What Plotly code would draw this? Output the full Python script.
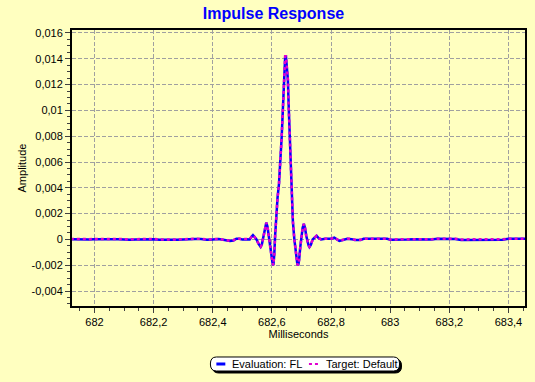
import plotly.graph_objects as go

# ---- data (milliseconds / amplitude) ----
time_ms = [
    681.92, 681.94, 681.96, 681.98, 682.00, 682.02, 682.04, 682.06, 682.08, 682.10,
    682.12, 682.14, 682.16, 682.18, 682.20, 682.22, 682.24, 682.26, 682.28, 682.30,
    682.32, 682.34, 682.36, 682.38, 682.40, 682.42, 682.44, 682.458, 682.47, 682.48,
    682.49, 682.50, 682.515, 682.525, 682.531, 682.536, 682.541, 682.548, 682.555, 682.562,
    682.566, 682.570, 682.575, 682.581, 682.585, 682.589, 682.592, 682.597, 682.602, 682.605,
    682.608, 682.611, 682.615, 682.619, 682.624, 682.629, 682.633, 682.637, 682.640, 682.644,
    682.645, 682.6475, 682.650, 682.654, 682.657, 682.660, 682.665, 682.671, 682.676, 682.681,
    682.686, 682.689, 682.692, 682.696, 682.699, 682.704, 682.708, 682.712, 682.716, 682.719,
    682.724, 682.727, 682.732, 682.738, 682.745, 682.751, 682.758, 682.766, 682.78, 682.80,
    682.811, 682.82, 682.828, 682.84, 682.855, 682.87, 682.88, 682.90, 682.91, 682.93,
    682.95, 682.97, 682.99, 683.00, 683.02, 683.04, 683.06, 683.08, 683.10, 683.12,
    683.14, 683.16, 683.18, 683.20, 683.22, 683.24, 683.26, 683.28, 683.30, 683.32,
    683.34, 683.36, 683.38, 683.40, 683.42, 683.44, 683.46,
]

evaluation_fl = [
    0.00002, 0.0, 0.00003, 0.0, 0.00002, 0.00003, 0.00001, 0.00003, 0.00002, 0.0,
    -0.00003, 0.0, 0.00002, 0.00004, 0.00002, -0.00002, 0.0, -0.00003, -0.00002, 0.0,
    0.00005, 0.00004, 0.00003, -0.00002, 0.0, 0.00003, -0.00005, -0.00013, -0.00008, 0.00005,
    0.00005, 0.0, 0.00002, 0.0, 0.0002, 0.00033, 0.0002, 0.0, -0.00035, -0.00058,
    -0.0004, 0.0, 0.0007, 0.0013, 0.001, 0.0003, -0.0001, -0.001, -0.0018, -0.002,
    -0.0012, 0.0003, 0.002, 0.0032, 0.0043, 0.0061, 0.0079, 0.01, 0.012, 0.014,
    0.0142, 0.0142, 0.0136, 0.0124, 0.0102, 0.008, 0.0045, 0.0014, 0.0, -0.001,
    -0.0019, -0.002, -0.0016, -0.0006, 0.0, 0.0009, 0.0012, 0.0009, 0.0003, -0.0001,
    -0.00045, -0.00058, -0.0004, 0.0, 0.0002, 0.00028, 0.0001, 0.0, 0.00005, 0.00005,
    0.00013, 0.0, -0.00012, -0.00005, 0.00005, 0.00002, -0.00005, -0.00005, 0.00005, 0.00005,
    0.00005, 0.00005, 0.00005, -0.00002, -0.00003, -0.00003, 0.0, 0.00002, 0.0, -0.00002,
    0.0, 0.00005, 0.00005, 0.00005, 0.00004, -0.00005, -0.00005, -0.00005, -0.00005, -0.00005,
    -0.00005, -0.00005, -0.00003, 0.00005, 0.00005, 0.00005, 0.00005,
]

target_default = [
    0.00004, 0.00002, 0.00004, 0.00002, 0.00003, 0.00004, 0.00003, 0.00004, 0.00003, 0.00002,
    0.0, 0.00002, 0.00003, 0.00005, 0.00003, 0.0, 0.00002, 0.0, 0.0, 0.00002,
    0.00006, 0.00005, 0.00004, 0.0, 0.00002, 0.00004, -0.00003, -0.00011, -0.00006, 0.00006,
    0.00006, 0.00002, 0.00003, 0.00002, 0.0002, 0.00032, 0.0002, 0.0, -0.00034, -0.00056,
    -0.0004, 0.0, 0.0007, 0.0013, 0.001, 0.0003, -0.0001, -0.001, -0.0018, -0.002,
    -0.0012, 0.0003, 0.002, 0.0032, 0.0043, 0.0061, 0.0079, 0.01, 0.012, 0.014,
    0.0142, 0.0142, 0.0136, 0.0124, 0.0102, 0.008, 0.0045, 0.0014, 0.0, -0.001,
    -0.0019, -0.002, -0.0016, -0.0006, 0.0, 0.0009, 0.0012, 0.0009, 0.0003, -0.0001,
    -0.00045, -0.00056, -0.0004, 0.0, 0.0002, 0.00028, 0.0001, 0.00002, 0.00006, 0.00006,
    0.00014, 0.00002, -0.0001, -0.00003, 0.00006, 0.00004, -0.00002, -0.00002, 0.00006, 0.00006,
    0.00006, 0.00006, 0.00006, 0.0, 0.0, 0.0, 0.00002, 0.00004, 0.00002, 0.0,
    0.00002, 0.00006, 0.00006, 0.00006, 0.00005, 0.0, 0.0, 0.0, 0.0, 0.0,
    0.0, 0.0, 0.00002, 0.00006, 0.00006, 0.00006, 0.00006,
]

x_tick_vals = [682.0, 682.2, 682.4, 682.6, 682.8, 683.0, 683.2, 683.4]
x_tick_text = ["682", "682,2", "682,4", "682,6", "682,8", "683", "683,2", "683,4"]
y_tick_vals = [0.016, 0.014, 0.012, 0.01, 0.008, 0.006, 0.004, 0.002, 0.0, -0.002, -0.004]
y_tick_text = ["0,016", "0,014", "0,012", "0,01", "0,008", "0,006", "0,004", "0,002", "0",
               "-0,002", "-0,004"]

series_names = ["Evaluation: FL", "Target: Default"]

# ---- styling ----
BG = "#FFFFC0"
FONT = "Liberation Sans, Arial, sans-serif"
BLUE = "#0000FF"
MAGENTA = "#E000D0"

W, H = 535, 382
ML, MR, MT, MB = 72, 8, 30, 76
PW, PH = W - ML - MR, H - MT - MB


def px2paper(px, py):
    return (px - ML) / PW, (H - MB - py) / PH


fig = go.Figure()
fig.add_trace(go.Scatter(x=time_ms, y=evaluation_fl, mode="lines", name=series_names[0],
                         line=dict(color=BLUE, width=2.5), showlegend=False))
fig.add_trace(go.Scatter(x=time_ms, y=target_default, mode="lines", name=series_names[1],
                         line=dict(color=MAGENTA, width=2.5, dash="dot"), showlegend=False))

axis_common = dict(
    showline=True, linewidth=2, linecolor="black", mirror=True,
    showgrid=True, gridcolor="#A0A0A0", gridwidth=1, griddash="4px,2px",
    zeroline=False, ticks="outside", ticklen=5, tickwidth=1, tickcolor="#404040",
    tickfont=dict(family=FONT, size=11, color="black"),
)

fig.update_xaxes(
    range=[681.924, 683.456], tickmode="array", tickvals=x_tick_vals, ticktext=x_tick_text,
    title=dict(text="Milliseconds", font=dict(family=FONT, size=11, color="black"), standoff=3),
    minor=dict(tick0=682.0, dtick=0.05, ticks="outside", ticklen=3, tickcolor="#404040",
               showgrid=False),
    **axis_common,
)
fig.update_yaxes(
    range=[-0.00516, 0.01623], tickmode="array", tickvals=y_tick_vals, ticktext=y_tick_text,
    title=dict(text="Amplitude", font=dict(family=FONT, size=11, color="black"), standoff=3),
    minor=dict(tick0=0.0, dtick=0.0005, ticks="outside", ticklen=3, tickcolor="#404040",
               showgrid=False),
    **axis_common,
)

# ---- custom rounded legend box ----
def rounded_path(x0, y0, x1, y1, r):
    def P(px, py):
        a, b = px2paper(px, py)
        return f"{a:.5f},{b:.5f}"
    ym = (y0 + y1) / 2
    return (f"M {P(x0 + r, y0)} L {P(x1 - r, y0)} Q {P(x1, y0)} {P(x1, ym)} "
            f"Q {P(x1, y1)} {P(x1 - r, y1)} L {P(x0 + r, y1)} Q {P(x0, y1)} {P(x0, ym)} "
            f"Q {P(x0, y0)} {P(x0 + r, y0)} Z")

lx0, ly0, lx1, ly1 = 211, 357, 401, 371
shapes = [
    dict(type="path", xref="paper", yref="paper", path=rounded_path(lx0 + 2, ly0 + 2, lx1 + 2, ly1 + 2, 6),
         fillcolor="black", line=dict(color="black", width=1), layer="above"),
    dict(type="path", xref="paper", yref="paper", path=rounded_path(lx0, ly0, lx1, ly1, 6),
         fillcolor="white", line=dict(color="black", width=1), layer="above"),
]
ax0, ay = px2paper(217, 364)
ax1, _ = px2paper(226, 364)
shapes.append(dict(type="line", xref="paper", yref="paper", x0=ax0, x1=ax1, y0=ay, y1=ay,
                   line=dict(color=BLUE, width=3), layer="above"))
bx0, _ = px2paper(310, 364)
bx1, _ = px2paper(320, 364)
shapes.append(dict(type="line", xref="paper", yref="paper", x0=bx0, x1=bx1, y0=ay, y1=ay,
                   line=dict(color=MAGENTA, width=2, dash="dot"), layer="above"))

t1x, _ = px2paper(231, 364)
t2x, _ = px2paper(325, 364)
annotations = [
    dict(x=t1x, y=ay, xref="paper", yref="paper", text=series_names[0], showarrow=False,
         xanchor="left", yanchor="middle", font=dict(family=FONT, size=11, color="black")),
    dict(x=t2x, y=ay, xref="paper", yref="paper", text=series_names[1], showarrow=False,
         xanchor="left", yanchor="middle", font=dict(family=FONT, size=11, color="black")),
]

fig.update_layout(
    width=W, height=H,
    margin=dict(l=ML, r=MR, t=MT, b=MB),
    paper_bgcolor=BG, plot_bgcolor=BG,
    title=dict(text="Impulse Response", x=273.5 / W, y=1 - 13 / H, xref="container",
               yref="container", xanchor="center", yanchor="middle",
               font=dict(family=FONT, size=16, color=BLUE, weight="bold")),
    shapes=shapes, annotations=annotations, showlegend=False,
)

fig.write_html("out.html", config={"displayModeBar": False},
               post_script="document.body.style.margin='0';document.body.style.background='"
                           + BG + "';")
